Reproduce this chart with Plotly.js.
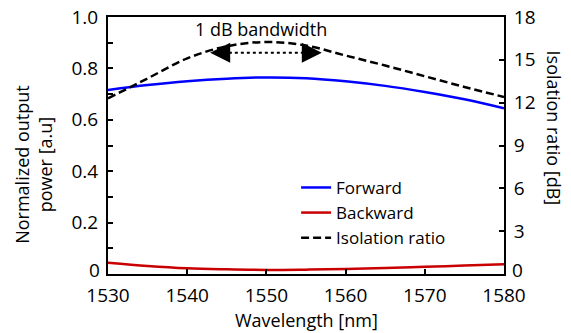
<!DOCTYPE html>
<html>
<head>
<meta charset="utf-8">
<script src="https://cdn.plot.ly/plotly-3.0.1.min.js"></script>
<style>html,body{margin:0;padding:0;background:#fff;}#chart{width:571px;height:333px;}</style>
</head>
<body>
<div id="chart"></div>
<script>
const wavelength = [1530, 1535, 1540, 1545, 1550, 1555, 1560, 1565, 1570, 1575, 1580];
const forward    = [0.716, 0.735, 0.750, 0.760, 0.765, 0.762, 0.750, 0.732, 0.708, 0.680, 0.645];
const backward   = [0.044, 0.031, 0.022, 0.018, 0.016, 0.017, 0.019, 0.023, 0.028, 0.033, 0.038];
const isolation  = [12.3, 13.7, 15.1, 15.95, 16.25, 16.0, 15.3, 14.6, 13.85, 13.1, 12.4];
const leftTicks  = [0, 0.2, 0.4, 0.6, 0.8, 1.0];
const leftLabels = ['', '0.2', '0.4', '0.6', '0.8', '1.0'];
const rightTicks = [0, 3, 6, 9, 12, 15, 18];
const rightLabels = ['', '3', '6', '9', '12', '15', '18'];
const bandwidthEdges = [1542.9, 1557.0];
const bandwidthLevel = 15.5;

const font = '"Open Sans", Lato, sans-serif';

const traces = [
  {x: wavelength, y: forward, name: 'Forward', mode: 'lines', line: {color: '#0000ff', width: 2.5, shape: 'spline'}, yaxis: 'y'},
  {x: wavelength, y: backward, name: 'Backward', mode: 'lines', line: {color: '#c80000', width: 2.5, shape: 'spline'}, yaxis: 'y'},
  {x: wavelength, y: isolation, name: 'Isolation ratio', mode: 'lines', line: {color: '#000000', width: 2.5, dash: '8px,4px', shape: 'spline'}, yaxis: 'y2'}
];

const layout = {
  width: 571, height: 333,
  margin: {l: 108, r: 67, t: 17, b: 59},
  paper_bgcolor: '#fff', plot_bgcolor: '#fff',
  font: {family: font, size: 18, color: '#000'},
  showlegend: true,
  legend: {x: 0.475, y: 0.405, xanchor: 'left', yanchor: 'top', bgcolor: 'rgba(0,0,0,0)', font: {size: 17}, tracegroupgap: 0},
  xaxis: {
    range: [1530, 1580], dtick: 10, tick0: 1530, ticks: 'inside', ticklen: 5, tickwidth: 2, tickcolor: '#000',
    showline: true, linecolor: '#000', linewidth: 2, mirror: true, showgrid: false, zeroline: false,
    tickfont: {size: 19}, ticklabelstandoff: 3
  },
  yaxis: {
    range: [0, 1.0], tickvals: leftTicks, ticktext: leftLabels,
    ticks: 'inside', ticklen: 5, tickwidth: 2, tickcolor: '#000',
    minor: {dtick: 0.1, tick0: 0, ticks: 'inside', ticklen: 5, tickwidth: 2, tickcolor: '#000', showgrid: false},
    showline: true, linecolor: '#000', linewidth: 2, showgrid: false, zeroline: false,
    tickfont: {size: 19}, ticklabelstandoff: 4
  },
  yaxis2: {
    overlaying: 'y', side: 'right', range: [0, 18], tickvals: rightTicks, ticktext: rightLabels,
    ticks: 'inside', ticklen: 5, tickwidth: 2, tickcolor: '#000',
    showline: true, linecolor: '#000', linewidth: 2, showgrid: false, zeroline: false,
    tickfont: {size: 19}, ticklabelstandoff: 4
  },
  shapes: [
    {type: 'line', xref: 'x', yref: 'y2', x0: bandwidthEdges[0] + 1.6, x1: bandwidthEdges[1] - 1.6, y0: bandwidthLevel, y1: bandwidthLevel,
     line: {color: '#000', width: 2, dash: 'dot'}}
  ],
  annotations: [
    {xref: 'x', yref: 'y2', x: bandwidthEdges[0], y: bandwidthLevel, ax: 14, ay: 0, showarrow: true, arrowhead: 2, arrowsize: 2, arrowwidth: 2, arrowcolor: '#000', text: ''},
    {xref: 'x', yref: 'y2', x: bandwidthEdges[1], y: bandwidthLevel, ax: -14, ay: 0, showarrow: true, arrowhead: 2, arrowsize: 2, arrowwidth: 2, arrowcolor: '#000', text: ''},
    {xref: 'paper', yref: 'y', x: 0, y: leftTicks[0], xanchor: 'right', yanchor: 'middle', xshift: -6, yshift: 4, showarrow: false, text: '0', font: {size: 19}},
    {xref: 'paper', yref: 'y2', x: 1, y: rightTicks[0], xanchor: 'left', yanchor: 'middle', xshift: 6, yshift: 4, showarrow: false, text: '0', font: {size: 19}},
    {xref: 'paper', yref: 'paper', x: 0.387, y: 0.955, xanchor: 'center', yanchor: 'middle', showarrow: false, text: '1 dB bandwidth', font: {size: 18}},
    {xref: 'paper', yref: 'paper', x: -0.19, y: 0.424, xanchor: 'center', yanchor: 'middle', showarrow: false, textangle: -90,
     text: 'Normalized output<br>power [a.u]', font: {size: 18}},
    {xref: 'paper', yref: 'paper', x: 1.125, y: 0.568, xanchor: 'center', yanchor: 'middle', showarrow: false, textangle: 90,
     text: 'Isolation ratio [dB]', font: {size: 18}},
    {xref: 'paper', yref: 'paper', x: 0.5, y: -0.18, xanchor: 'center', yanchor: 'middle', showarrow: false,
     text: 'Wavelength [nm]', font: {size: 18}}
  ]
};

Plotly.newPlot('chart', traces, layout, {displayModeBar: false, staticPlot: true});
</script>
</body>
</html>
